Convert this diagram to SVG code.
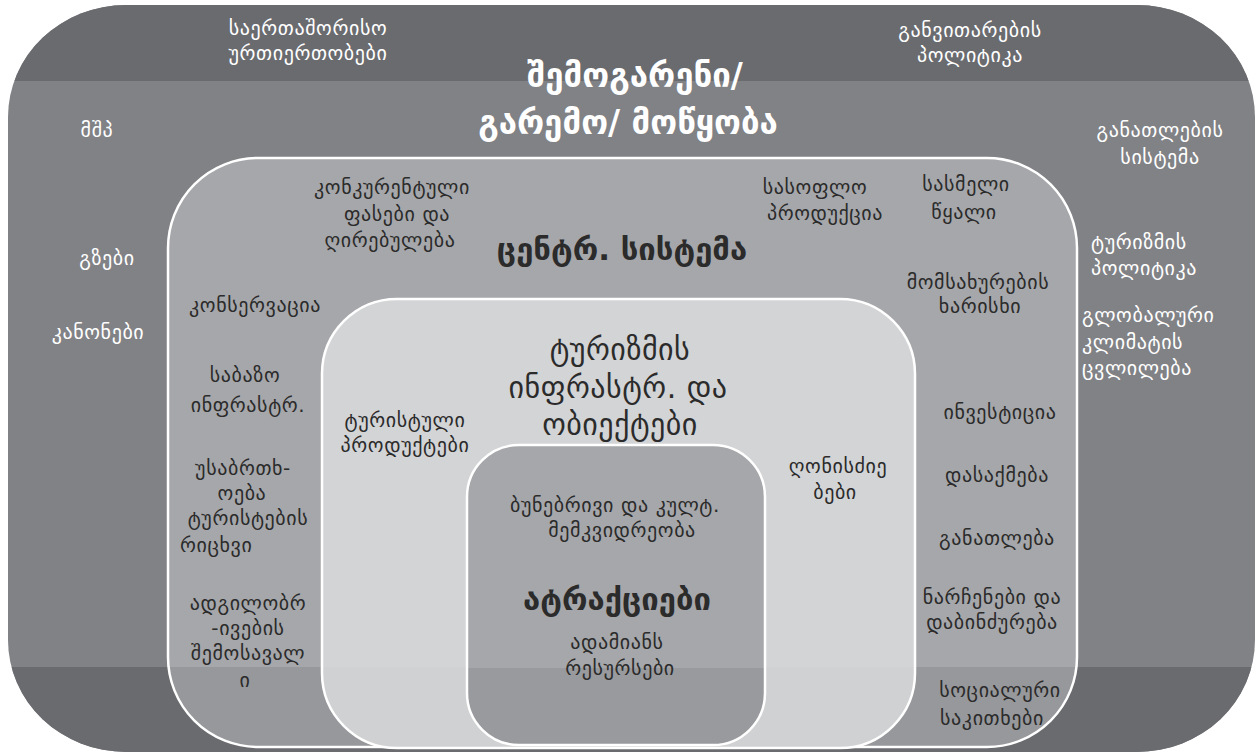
<svg xmlns="http://www.w3.org/2000/svg" width="1258" height="753" viewBox="0 0 1258 753">
<style>
text{font-family:"DejaVu Sans","Noto Sans",sans-serif;text-anchor:middle}
.w{fill:#ffffff;font-size:20px;letter-spacing:0.6px}
.d{fill:#2b2b2b;font-size:20px;letter-spacing:0.6px}
.title{fill:#ffffff;font-size:33px;font-weight:bold}
.big{fill:#2b2b2b;font-size:31px;font-weight:bold}
.mid{fill:#2b2b2b;font-size:30px;letter-spacing:0.5px}
.st{text-anchor:start}
.frame{stroke:#ffffff;stroke-width:2.5}
</style>
<defs>
<clipPath id="cOuter"><rect x="8" y="5" width="1247" height="747" rx="118" ry="112"/></clipPath>
<clipPath id="cCenter"><rect x="168" y="158" width="909" height="589" rx="90"/></clipPath>
<clipPath id="cInfra"><rect x="322" y="299" width="593" height="449" rx="75"/></clipPath>
<clipPath id="cAttr"><rect x="467" y="445" width="298" height="300" rx="52"/></clipPath>
</defs>

<g id="environment">
<rect x="8" y="5" width="1247" height="747" rx="118" ry="112" fill="#818286"/>
<rect x="0" y="0" width="1258" height="81" fill="#6a6b6f" clip-path="url(#cOuter)"/>
<rect x="0" y="667" width="1258" height="86" fill="#6a6b6f" clip-path="url(#cOuter)"/>
<text class="w" x="308" y="35">საერთაშორისო</text>
<text class="w" x="308" y="60">ურთიერთობები</text>
<text class="w" x="970" y="37">განვითარების</text>
<text class="w" x="970" y="62">პოლიტიკა</text>
<text class="title" x="635" y="87">შემოგარენი/</text>
<text class="title" x="628" y="134">გარემო/ მოწყობა</text>
<text class="w" x="97" y="137">მშპ</text>
<text class="w" x="1160" y="137">განათლების</text>
<text class="w" x="1160" y="164">სისტემა</text>
<text class="w" x="107" y="265">გზები</text>
<text class="w" x="98" y="339">კანონები</text>
<text class="w st" x="1091" y="249">ტურიზმის</text>
<text class="w st" x="1091" y="275">პოლიტიკა</text>
<text class="w st" x="1082" y="322">გლობალური</text>
<text class="w st" x="1082" y="349">კლიმატის</text>
<text class="w st" x="1082" y="375">ცვლილება</text>
</g>

<g id="central-system">
<rect x="168" y="158" width="909" height="589" rx="90" fill="#a6a7aa"/>
<rect x="0" y="667" width="1258" height="86" fill="#97989b" clip-path="url(#cCenter)"/>
<rect x="168" y="158" width="909" height="589" rx="90" fill="none" class="frame"/>
<text class="d" x="392" y="194">კონკურენტული</text>
<text class="d" x="397" y="221">ფასები და</text>
<text class="d" x="390" y="247">ღირებულება</text>
<text class="big" x="622" y="260">ცენტრ. სისტემა</text>
<text class="d" x="815" y="194">სასოფლო</text>
<text class="d" x="825" y="220">პროდუქცია</text>
<text class="d" x="966" y="191">სასმელი</text>
<text class="d" x="964" y="219">წყალი</text>
<text class="d" x="978" y="289">მომსახურების</text>
<text class="d" x="980" y="313">ხარისხი</text>
<text class="d" x="255" y="312">კონსერვაცია</text>
<text class="d" x="245" y="382">საბაზო</text>
<text class="d" x="248" y="412">ინფრასტრ.</text>
<text class="d" x="243" y="475">უსაბრთხ-</text>
<text class="d" x="242" y="500">ოება</text>
<text class="d" x="248" y="525">ტურისტების</text>
<text class="d st" x="180" y="552">რიცხვი</text>
<text class="d" x="248" y="610">ადგილობრ</text>
<text class="d" x="248" y="635">-ივების</text>
<text class="d" x="248" y="660">შემოსავალ</text>
<text class="d" x="245" y="687">ი</text>
<text class="d" x="1000" y="419">ინვესტიცია</text>
<text class="d" x="997" y="482">დასაქმება</text>
<text class="d" x="997" y="545">განათლება</text>
<text class="d" x="992" y="604">ნარჩენები და</text>
<text class="d" x="992" y="629">დაბინძურება</text>
<text class="d" x="1000" y="697">სოციალური</text>
<text class="d" x="992" y="725">საკითხები</text>
</g>

<g id="tourism-infrastructure">
<rect x="322" y="299" width="593" height="449" rx="75" fill="#d3d4d6"/>
<rect x="0" y="667" width="1258" height="86" fill="#d0d1d3" clip-path="url(#cInfra)"/>
<rect x="322" y="299" width="593" height="449" rx="75" fill="none" class="frame"/>
<text class="mid" x="620" y="360">ტურიზმის</text>
<text class="mid" x="618" y="398">ინფრასტრ. და</text>
<text class="mid" x="620" y="435">ობიექტები</text>
<text class="d" x="405" y="427">ტურისტული</text>
<text class="d" x="405" y="452">პროდუქტები</text>
<text class="d" x="838" y="473">ღონისძიე</text>
<text class="d" x="835" y="499">ბები</text>
</g>

<g id="attractions">
<rect x="467" y="445" width="298" height="300" rx="52" fill="#a6a7aa"/>
<rect x="0" y="668" width="1258" height="86" fill="#999a9d" clip-path="url(#cAttr)"/>
<rect x="467" y="445" width="298" height="300" rx="52" fill="none" class="frame"/>
<text class="d" x="615" y="512">ბუნებრივი და კულტ.</text>
<text class="d" x="622" y="537">მემკვიდრეობა</text>
<text class="big" x="617" y="610">ატრაქციები</text>
<text class="d" x="617" y="649">ადამიანს</text>
<text class="d" x="620" y="675">რესურსები</text>
</g>

<g id="connectors"/>
</svg>
